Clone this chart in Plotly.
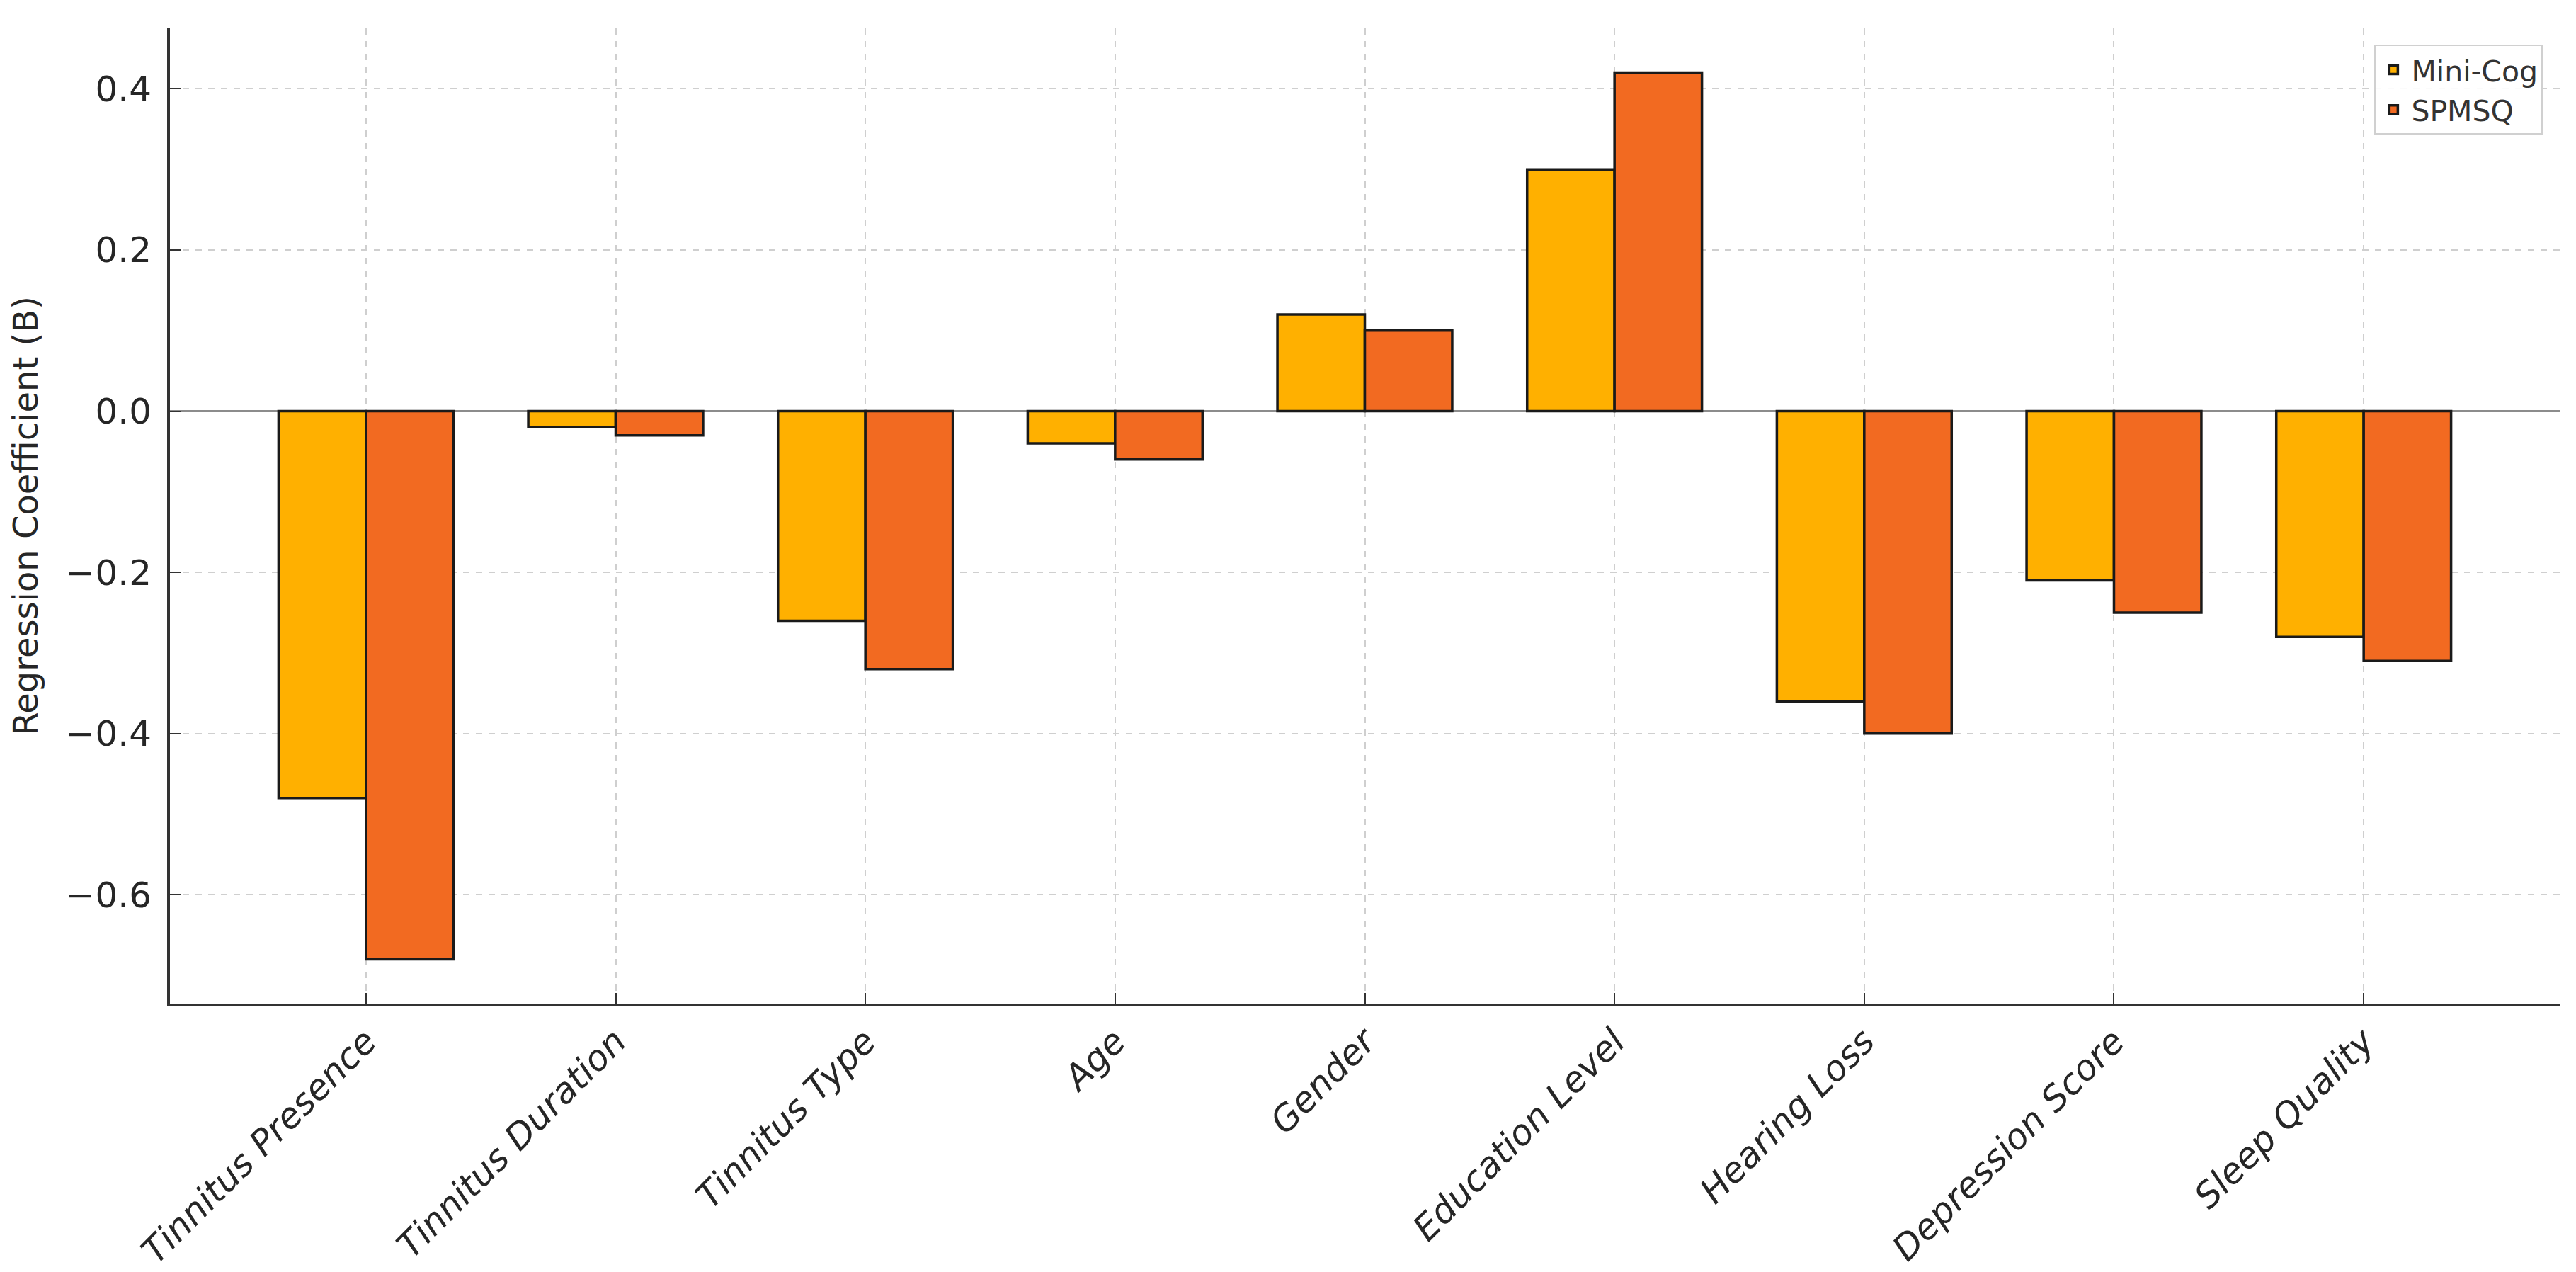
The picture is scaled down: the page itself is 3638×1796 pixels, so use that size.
import plotly.graph_objects as go

categories = ["Tinnitus Presence", "Tinnitus Duration", "Tinnitus Type", "Age", "Gender",
              "Education Level", "Hearing Loss", "Depression Score", "Sleep Quality"]
mini_cog = [-0.48, -0.02, -0.26, -0.04, 0.12, 0.30, -0.36, -0.21, -0.28]
spmsq = [-0.68, -0.03, -0.32, -0.06, 0.10, 0.42, -0.40, -0.25, -0.31]
series_names = ["Mini-Cog", "SPMSQ"]
y_ticks = [-0.6, -0.4, -0.2, 0.0, 0.2, 0.4]

colors = ["#FFB000", "#F26A21"]
FONT = "DejaVu Sans"

fig = go.Figure()
for name, vals, col in zip(series_names, [mini_cog, spmsq], colors):
    fig.add_trace(go.Bar(
        x=categories, y=vals, name=name,
        marker=dict(color=col, line=dict(color="#1a1a1a", width=3.5)),
    ))

fig.update_layout(
    width=3638, height=1796,
    margin=dict(l=232, r=31, t=32, b=387, autoexpand=False),
    paper_bgcolor="white", plot_bgcolor="white",
    barmode="group", bargap=0.3, bargroupgap=0.0,
    font=dict(family=FONT, size=50, color="#262626"),
    showlegend=True,
    legend=dict(
        x=0.993, y=0.983, xanchor="right", yanchor="top",
        bgcolor="rgba(255,255,255,0.9)", bordercolor="#d0d0d0", borderwidth=2,
        font=dict(family=FONT, size=41, color="#333333"),
        itemwidth=40, tracegroupgap=6,
    ),
)

fig.update_xaxes(
    range=[-0.785, 8.785], automargin=False,
    showline=True, linecolor="#333333", linewidth=4, mirror=False,
    ticks="inside", ticklen=15, tickwidth=2, tickcolor="#333333",
    tickangle=-45,
    tickfont=dict(family=FONT, size=50, style="italic", color="#262626"),
    showgrid=True, gridcolor="#cfcfcf", gridwidth=2, griddash="dash",
    zeroline=False,
)

fig.update_yaxes(
    range=[-0.735, 0.475], automargin=False,
    tickvals=y_ticks, tickformat=".1f",
    showline=True, linecolor="#333333", linewidth=4, mirror=False,
    ticks="inside", ticklen=15, tickwidth=2, tickcolor="#333333",
    tickfont=dict(family=FONT, size=50, color="#262626"),
    ticklabelstandoff=12,
    showgrid=True, gridcolor="#cfcfcf", gridwidth=2, griddash="dash",
    zeroline=True, zerolinecolor="#8c8c8c", zerolinewidth=3,
    title=dict(text="Regression Coefficient (B)", font=dict(family=FONT, size=48, color="#262626"),
               standoff=38),
)

fig.write_html("out.html")
